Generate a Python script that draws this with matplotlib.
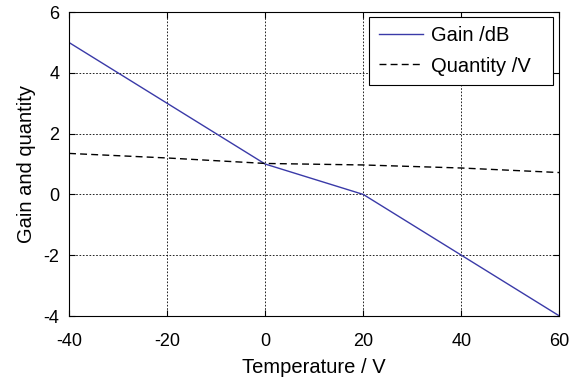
import matplotlib.pyplot as plt

temperature = [-40, -20, 0, 20, 40, 60]
gain_db = [5, 3, 1, 0, -2, -4]
quantity_v = [1.35, 1.2, 1.02, 0.97, 0.87, 0.72]

plt.rcParams['font.family'] = ['Liberation Sans', 'DejaVu Sans']
plt.rcParams['font.size'] = 13
plt.rcParams['axes.unicode_minus'] = False

fig = plt.figure(figsize=(5.74, 3.78), dpi=100)
ax = fig.add_axes([0.1202, 0.164, 0.8545, 0.804])

ax.plot(temperature, gain_db, color='#3a3aa8', lw=1.0, label='Gain /dB')
ax.plot(temperature, quantity_v, color='black', lw=1.0, ls=(0, (5, 3)), label='Quantity /V')

ax.set_xlim(-40, 60)
ax.set_ylim(-4, 6)
ax.set_xticks(range(-40, 61, 20))
ax.set_yticks(range(-4, 7, 2))
ax.grid(True, color='black', ls=(0, (2, 2)), lw=0.6)
ax.tick_params(direction='in', length=4, top=True, right=True)
ax.tick_params(axis='x', pad=12)
ax.tick_params(axis='y', pad=7)
ax.set_xlabel('Temperature / V', fontsize=14.5, labelpad=6)
ax.set_ylabel('Gain and quantity', fontsize=14.5, labelpad=5)

leg = ax.legend(loc='upper left', bbox_to_anchor=(0.6126, 0.5, 0.374, 0.4826), mode='expand',
                fancybox=False, framealpha=1, edgecolor='black', borderaxespad=0,
                fontsize=14.5, handlelength=2.2, handletextpad=0.4, borderpad=0.45,
                labelspacing=0.55)
leg.get_frame().set_linewidth(0.8)

fig.savefig('out.png', dpi=100)
